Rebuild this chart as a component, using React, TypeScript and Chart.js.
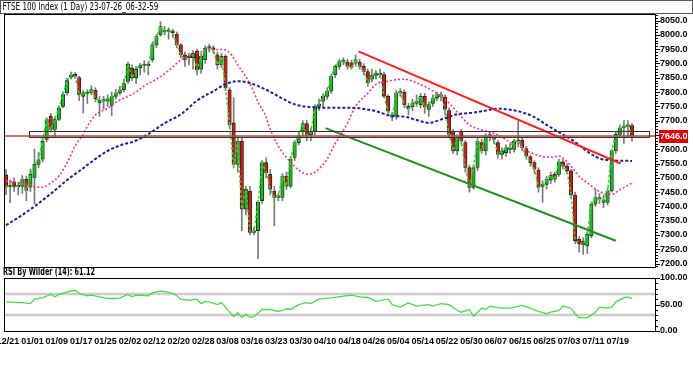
import React, { useEffect, useRef } from "react";
import { Chart, registerables } from "chart.js";
Chart.register(...registerables);

// ---------- DATA ----------
const tickLabels = ["12/21","01/01","01/09","01/17","01/25","02/02","02/12","02/20","02/28","03/08","03/16","03/23","03/30","04/10","04/18","04/26","05/04","05/14","05/22","05/30","06/07","06/15","06/25","07/03","07/11","07/19"];

const opens = [7510,7468,7485,7468,7470,7495,7468,7501,7547,7565,7634,7715,7669,7704,7750,7797,7852,7862,7851,7785,7797,7797,7806,7762,7768,7768,7753,7785,7797,7808,7837,7884,7849,7885,7893,7898,7913,7965,8000,8015,8012,8012,8003,7965,7930,7920,7920,7942,7880,7913,7954,7955,7930,7895,7925,7808,7692,7547,7628,7390,7454,7309,7315,7420,7553,7512,7454,7431,7431,7506,7471,7571,7623,7663,7690,7650,7663,7750,7768,7785,7803,7861,7890,7907,7905,7902,7901,7905,7890,7872,7845,7858,7861,7861,7785,7721,7716,7797,7799,7750,7748,7760,7756,7785,7739,7760,7779,7785,7782,7735,7663,7594,7663,7623,7536,7466,7536,7623,7594,7646,7640,7623,7582,7588,7599,7599,7628,7631,7602,7574,7553,7527,7470,7477,7492,7512,7512,7556,7541,7524,7440,7285,7278,7262,7297,7408,7431,7414,7414,7454,7594,7652,7676,7680,7683];
const highs = [7530,7492,7500,7482,7508,7505,7530,7600,7590,7640,7710,7725,7712,7752,7800,7848,7870,7868,7856,7805,7808,7822,7815,7785,7785,7790,7800,7810,7820,7845,7905,7895,7890,7900,7910,7905,7975,8000,8047,8030,8025,8020,8010,7970,7940,7935,7945,7950,7935,7962,7968,7962,7940,7935,7930,7815,7780,7640,7640,7470,7470,7325,7420,7560,7570,7530,7470,7445,7515,7520,7575,7630,7660,7700,7700,7675,7755,7775,7795,7815,7862,7895,7915,7920,7915,7912,7930,7915,7900,7880,7880,7875,7880,7870,7790,7730,7805,7812,7808,7760,7775,7790,7795,7795,7765,7790,7800,7800,7790,7745,7670,7650,7670,7630,7545,7545,7640,7635,7655,7660,7650,7630,7605,7615,7620,7635,7698,7640,7610,7580,7560,7535,7490,7505,7520,7520,7565,7565,7550,7530,7450,7295,7290,7310,7415,7460,7445,7440,7465,7600,7660,7685,7700,7700,7690];
const lows = [7440,7412,7452,7440,7445,7420,7452,7409,7535,7555,7625,7660,7645,7700,7745,7790,7845,7848,7770,7727,7760,7790,7765,7715,7740,7750,7718,7775,7790,7800,7830,7840,7830,7860,7870,7860,7905,7955,7995,8000,7985,7990,7955,7920,7890,7895,7880,7860,7865,7900,7940,7935,7880,7885,7805,7675,7535,7520,7315,7370,7300,7300,7217,7410,7500,7440,7332,7420,7420,7460,7465,7560,7615,7640,7630,7630,7650,7735,7745,7775,7795,7850,7880,7895,7880,7880,7890,7880,7860,7820,7835,7845,7850,7780,7725,7700,7705,7785,7745,7720,7735,7750,7745,7725,7715,7750,7770,7770,7720,7640,7585,7580,7615,7520,7450,7460,7525,7585,7580,7630,7620,7570,7565,7575,7585,7590,7615,7595,7565,7540,7515,7450,7414,7460,7480,7485,7505,7530,7515,7430,7270,7240,7232,7235,7290,7400,7410,7395,7405,7450,7585,7645,7620,7640,7628];
const closes = [7468,7474,7468,7472,7495,7456,7512,7547,7564,7628,7704,7669,7704,7745,7791,7840,7860,7855,7790,7797,7795,7809,7777,7770,7772,7777,7785,7797,7808,7830,7898,7849,7880,7893,7895,7892,7965,7994,8029,8010,8014,8008,7965,7930,7913,7925,7935,7878,7925,7954,7956,7948,7895,7925,7814,7686,7547,7628,7390,7460,7309,7314,7414,7553,7518,7460,7431,7438,7506,7471,7565,7623,7646,7690,7648,7663,7750,7758,7785,7803,7855,7890,7907,7910,7890,7886,7913,7888,7872,7832,7858,7866,7863,7785,7733,7712,7797,7799,7756,7741,7762,7768,7785,7748,7756,7779,7791,7787,7739,7652,7594,7640,7628,7536,7466,7536,7628,7594,7646,7648,7634,7582,7594,7605,7605,7628,7630,7605,7576,7553,7530,7466,7477,7495,7509,7495,7556,7541,7524,7440,7280,7270,7266,7303,7408,7431,7425,7422,7454,7594,7652,7675,7680,7683,7646];

// pink moving average (read at sample bars)
const maFastBars = [0,3,5,7,9,11,13,15,17,19,20,22,25,27,30,32,34,37,40,43,47,50,53,55,57,60,62,64,65,67,70,72,74,76,79,81,84,86,89,91,94,98,101,104,108,111,114,117,121,124,127,129,132,134,136,137,139,141,144,146,149,151,154];
const maFastValues = [7488,7484,7478,7468,7467,7482,7506,7552,7611,7653,7680,7720,7743,7764,7785,7800,7822,7845,7875,7912,7935,7948,7949,7938,7895,7830,7765,7712,7670,7610,7555,7527,7513,7520,7566,7621,7691,7750,7796,7827,7838,7845,7832,7812,7775,7730,7685,7668,7650,7625,7604,7588,7575,7572,7576,7570,7540,7505,7472,7452,7442,7458,7482];
// blue moving average (read at sample bars)
const maSlowBars = [0,4,7,11,15,19,22,25,29,31,35,39,43,47,51,54,57,60,64,67,71,75,79,83,87,91,95,98,101,104,108,111,115,118,121,124,127,130,133,136,140,143,146,149,154];
const maSlowValues = [7334,7370,7400,7444,7492,7534,7566,7594,7618,7625,7653,7691,7722,7770,7803,7828,7838,7831,7808,7785,7757,7747,7745,7745,7743,7733,7716,7714,7702,7692,7709,7722,7728,7735,7742,7738,7729,7712,7685,7660,7625,7592,7568,7561,7559];

// RSI (Wilder, 14) read at sample bars
const rsiBars = [0,4,6,7,9,11,12,13,15,17,18,20,21,24,26,28,30,31,32,35,36,38,40,41,42,43,45,47,48,49,50,52,53,54,55,56,57,58,59,60,61,63,65,67,69,70,72,74,75,77,80,83,85,87,89,91,94,95,97,99,101,104,105,107,109,111,112,114,115,117,118,119,122,124,127,129,131,133,134,136,137,139,140,141,143,145,146,148,149,150,152,153,154];
const rsiValues = [55,53.5,51.6,60,62.6,69,64.5,69,74,76.8,71,66.5,67.7,62.6,61.3,62.6,69,64.5,67.7,66.5,72,75.5,73,71,66.5,60,58,60,51.6,56,55,49.7,53.5,45,35.5,27.7,34,25.8,31.6,25.8,27,40.6,40.6,36.8,42,40.6,49.7,53.5,51.6,60,62.6,65.8,67.7,64.5,63.2,56,60,49.7,45,53,47,49.7,47,51.6,49.7,38.7,35.5,40.6,27.7,43,40.6,47,43,43,48.4,43,36.8,32.3,35.5,38.7,47,43,32.3,25.2,25.2,35.5,45,43,45,55,62.6,64.5,61.12];

// drawn trend lines and resistance zone
const resistanceBars = [86.7, 151.2];
const resistanceValues = [7942, 7550];
const supportBars = [78.6, 150];
const supportValues = [7674, 7280];
const zoneBars = [5.7, 158.3];
const zoneValues = [7640, 7662];
const lastPrice = 7646.0;
const rsiLevels = [70, 30];

// ---------- STYLE ----------
const AXIS_FONT = "'Liberation Sans', Arial, sans-serif";
const TITLE_FONT = "'DejaVu Sans Condensed', 'DejaVu Sans', sans-serif";
const X_MIN = -0.5;
const X_MAX = 159.9;
const Y_MIN = 7188;
const Y_MAX = 8073;
const AXIS_W = 37;

const priceTicks: number[] = [];
for (let v = 7200; v <= 8050; v += 50) priceTicks.push(v);

const idx = closes.map((_, i) => i);

const mainPlugin = {
  id: "mainDecor",
  afterDatasetsDraw(chart: any) {
    const { ctx, chartArea: a, scales } = chart;
    const xs = scales.x, ys = scales.y;
    ctx.save();
    const zx0 = xs.getPixelForValue(zoneBars[0]);
    const zx1 = xs.getPixelForValue(zoneBars[1]);
    const zyTop = ys.getPixelForValue(zoneValues[1]);
    const zyBot = ys.getPixelForValue(zoneValues[0]);
    const ly = ys.getPixelForValue(lastPrice);
    ctx.fillStyle = "rgba(200,150,150,0.35)";
    ctx.fillRect(zx0, ly, zx1 - zx0, zyBot - ly);
    ctx.strokeStyle = "#b04848";
    ctx.lineWidth = 1.5;
    ctx.beginPath();
    ctx.moveTo(a.left, ly);
    ctx.lineTo(a.right, ly);
    ctx.stroke();
    ctx.strokeStyle = "#333";
    ctx.lineWidth = 1;
    ctx.strokeRect(Math.round(zx0) + 0.5, Math.round(zyTop) + 0.5, Math.round(zx1 - zx0), Math.round(zyBot - zyTop));
    ctx.restore();
  },
  afterDraw(chart: any) {
    const { ctx, chartArea: a, scales } = chart;
    const ys = scales.y;
    ctx.save();
    ctx.strokeStyle = "#000";
    ctx.lineWidth = 1;
    ctx.strokeRect(a.left + 0.5, a.top + 0.5, a.right - a.left - 1, a.bottom - a.top);
    ctx.beginPath();
    for (let v = 7190; v <= 8070; v += 10) {
      const y = Math.round(ys.getPixelForValue(v)) + 0.5;
      const len = v % 50 === 0 ? 4 : 2;
      ctx.moveTo(a.right, y);
      ctx.lineTo(a.right + len, y);
    }
    ctx.stroke();
    const ly = Math.round(ys.getPixelForValue(lastPrice));
    ctx.fillStyle = "#e00000";
    ctx.fillRect(a.right + 3, ly - 6, 29, 13);
    ctx.fillStyle = "#fff";
    ctx.font = `bold 9px ${AXIS_FONT}`;
    ctx.textBaseline = "middle";
    ctx.textAlign = "left";
    ctx.fillText(lastPrice.toFixed(1), a.right + 4, ly + 0.5);
    ctx.restore();
  },
};

const rsiPlugin = {
  id: "rsiDecor",
  beforeDatasetsDraw(chart: any) {
    const { ctx, chartArea: a, scales } = chart;
    ctx.save();
    ctx.strokeStyle = "#cccccc";
    ctx.lineWidth = 2.5;
    ctx.beginPath();
    rsiLevels.forEach((lv) => {
      const y = scales.y.getPixelForValue(lv);
      ctx.moveTo(a.left, y);
      ctx.lineTo(a.right, y);
    });
    ctx.stroke();
    ctx.restore();
  },
  afterDraw(chart: any) {
    const { ctx, chartArea: a, scales } = chart;
    ctx.save();
    ctx.strokeStyle = "#000";
    ctx.lineWidth = 1;
    ctx.strokeRect(a.left + 0.5, a.top + 0.5, a.right - a.left - 1, a.bottom - a.top);
    ctx.beginPath();
    for (let v = 0; v <= 100; v += 10) {
      const y = Math.round(scales.y.getPixelForValue(v)) + 0.5;
      const len = v % 50 === 0 ? 4 : 2;
      ctx.moveTo(a.right, y);
      ctx.lineTo(a.right + len, y);
    }
    ctx.stroke();
    ctx.restore();
  },
};

function zeroPad(s: any) {
  s.paddingLeft = 0;
  s.paddingRight = 0;
  s.paddingTop = 0;
  s.paddingBottom = 0;
}

export default function App() {
  const mainRef = useRef<HTMLCanvasElement>(null);
  const rsiRef = useRef<HTMLCanvasElement>(null);

  useEffect(() => {
    const main = new Chart(mainRef.current as HTMLCanvasElement, {
      type: "bar",
      data: {
        datasets: [
          {
            type: "bar",
            data: idx.map((i) => ({ x: i, y: [lows[i], highs[i]] })),
            backgroundColor: "#7a7a7a",
            barThickness: 1,
            grouped: false,
            order: 10,
          } as any,
          {
            type: "bar",
            data: idx.map((i) => ({ x: i, y: [opens[i], closes[i]] })),
            backgroundColor: idx.map((i) => (closes[i] >= opens[i] ? "#14bf14" : "#e01414")),
            borderColor: "#1a1a1a",
            borderWidth: 0.8,
            borderSkipped: false,
            barThickness: 3.4,
            minBarLength: 1.5,
            grouped: false,
            order: 9,
          } as any,
          {
            type: "line",
            data: idx.map((i) => ({ x: i, y: closes[i] })),
            borderColor: "#33d633",
            borderWidth: 1.5,
            borderDash: [3, 2],
            pointRadius: 0,
            tension: 0,
            order: 5,
          } as any,
          {
            type: "line",
            data: maFastBars.map((b, k) => ({ x: b, y: maFastValues[k] })),
            borderColor: "#ff2f8f",
            borderWidth: 1.6,
            borderDash: [2, 2],
            pointRadius: 0,
            cubicInterpolationMode: "monotone",
            order: 4,
          } as any,
          {
            type: "line",
            data: maSlowBars.map((b, k) => ({ x: b, y: maSlowValues[k] })),
            borderColor: "#1c1ca8",
            borderWidth: 2,
            borderDash: [3, 2],
            pointRadius: 0,
            cubicInterpolationMode: "monotone",
            order: 3,
          } as any,
          {
            type: "line",
            data: resistanceBars.map((b, k) => ({ x: b, y: resistanceValues[k] })),
            borderColor: "#ff2020",
            borderWidth: 2,
            pointRadius: 0,
            order: 2,
          } as any,
          {
            type: "line",
            data: supportBars.map((b, k) => ({ x: b, y: supportValues[k] })),
            borderColor: "#1f8f1f",
            borderWidth: 2,
            pointRadius: 0,
            order: 2,
          } as any,
        ],
      },
      options: {
        animation: false,
        responsive: false,
        devicePixelRatio: 1,
        layout: { padding: { left: 4, top: 14, right: 0, bottom: 3 } },
        plugins: { legend: { display: false }, tooltip: { enabled: false } },
        scales: {
          x: { type: "linear", min: X_MIN, max: X_MAX, offset: false, display: false },
          y: {
            position: "right",
            min: Y_MIN,
            max: Y_MAX,
            grid: { display: false, drawTicks: false },
            border: { display: false },
            afterBuildTicks: (s: any) => {
              s.ticks = priceTicks.map((v) => ({ value: v }));
            },
            afterFit: (s: any) => {
              s.width = AXIS_W;
              zeroPad(s);
            },
            ticks: {
              padding: 4,
              color: "#000",
              font: { family: AXIS_FONT, size: 9, weight: "bold" },
              callback: (v: any) => (Math.abs(Number(v) - lastPrice) < 20 ? "" : Number(v).toFixed(1)),
            },
          },
        },
      } as any,
      plugins: [mainPlugin],
    });

    const rsi = new Chart(rsiRef.current as HTMLCanvasElement, {
      type: "line",
      data: {
        datasets: [
          {
            data: rsiBars.map((b, k) => ({ x: b, y: rsiValues[k] })),
            borderColor: "#46dc46",
            borderWidth: 1.3,
            pointRadius: 0,
            tension: 0,
          },
        ],
      },
      options: {
        animation: false,
        responsive: false,
        devicePixelRatio: 1,
        layout: { padding: { left: 4, top: 8, right: 0, bottom: 0 } },
        plugins: { legend: { display: false }, tooltip: { enabled: false } },
        scales: {
          x: {
            type: "linear",
            min: X_MIN,
            max: X_MAX,
            offset: false,
            grid: { display: false, drawTicks: false },
            border: { display: false },
            afterBuildTicks: (s: any) => {
              s.ticks = tickLabels.map((_, k) => ({ value: k * 6 }));
            },
            afterFit: (s: any) => {
              s.height = 34;
              zeroPad(s);
            },
            ticks: {
              autoSkip: false,
              maxRotation: 0,
              padding: 5,
              labelOffset: 2,
              color: "#000",
              font: { family: AXIS_FONT, size: 9, weight: "bold" },
              callback: (v: any) => tickLabels[Math.round(Number(v) / 6)] ?? "",
            },
          },
          y: {
            position: "right",
            min: 0,
            max: 100,
            grid: { display: false, drawTicks: false },
            border: { display: false },
            afterBuildTicks: (s: any) => {
              s.ticks = [0, 50, 100].map((v) => ({ value: v }));
            },
            afterFit: (s: any) => {
              s.width = AXIS_W;
              zeroPad(s);
            },
            ticks: {
              padding: 4,
              color: "#000",
              font: { family: AXIS_FONT, size: 9, weight: "bold" },
              callback: (v: any) => Number(v).toFixed(2),
            },
          },
        },
      } as any,
      plugins: [rsiPlugin],
    });

    return () => {
      main.destroy();
      rsi.destroy();
    };
  }, []);

  return (
    <div style={{ position: "fixed", left: 0, top: 0, width: 693, height: 365, background: "#fff", overflow: "hidden" }}>
      <canvas ref={mainRef} width={693} height={270} style={{ position: "absolute", left: 0, top: 0, display: "block" }} />
      <canvas ref={rsiRef} width={693} height={95} style={{ position: "absolute", left: 0, top: 270, display: "block" }} />
      <div
        style={{
          position: "absolute",
          left: 0,
          top: 0,
          width: 693,
          height: 14,
          boxSizing: "border-box",
          border: "1px solid #555",
          color: "#000",
          whiteSpace: "nowrap",
          overflow: "hidden",
        }}
      >
        <div
          style={{
            fontFamily: TITLE_FONT,
            fontSize: 10,
            lineHeight: "12px",
            paddingLeft: 2,
            transform: "scaleX(0.8)",
            transformOrigin: "0 0",
          }}
        >
          FTSE 100 Index (1 Day) 23-07-26_06-32-59
        </div>
      </div>
      <div
        style={{
          position: "absolute",
          left: 3,
          top: 266,
          fontFamily: TITLE_FONT,
          fontSize: 10,
          fontWeight: "bold",
          lineHeight: "12px",
          color: "#000",
          whiteSpace: "nowrap",
          transform: "scaleX(0.72)",
          transformOrigin: "0 0",
        }}
      >
        RSI By Wilder (14): 61.12
      </div>
    </div>
  );
}
